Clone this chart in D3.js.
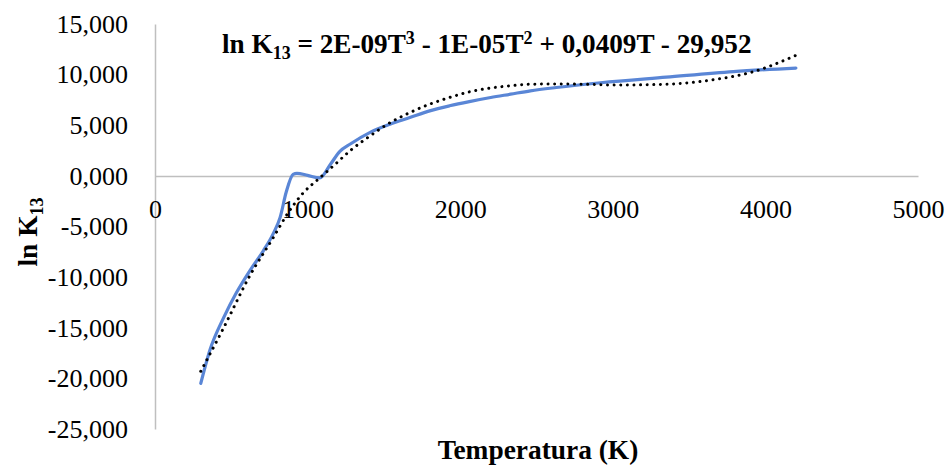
<!DOCTYPE html>
<html><head><meta charset="utf-8"><script src="https://cdn.jsdelivr.net/npm/d3@7"></script></head>
<body style="margin:0">
<svg id="s" width="952" height="468"></svg>
<script>
// ---- data ----
const temperature = [300, 360, 450, 535, 620, 710, 775, 820, 860, 905, 930, 1000, 1080, 1150, 1210, 1280, 1410, 1540, 1670, 1800, 1930, 2060, 2200, 2330, 2460, 2630, 2920, 3350, 3790, 4200];
const lnK13 = [-20.5, -17.2, -14.0, -11.5, -9.4, -7.4, -5.7, -4.1, -1.6, 0.15, 0.25, 0.05, -0.2, 1.15, 2.4, 3.15, 4.3, 5.1, 5.76, 6.42, 6.92, 7.34, 7.74, 8.07, 8.4, 8.73, 9.2, 9.75, 10.3, 10.65];
// polynomial trend line (dotted)
const trendT = [300, 450, 620, 775, 870, 970, 1080, 1170, 1280, 1410, 1540, 1670, 1800, 1930, 2060, 2200, 2330, 2460, 2630, 2800, 3020, 3350, 3680, 3900, 4200];
const trendV = [-19.3, -15.0, -9.9, -6.1, -3.7, -1.7, -0.2, 1.0, 2.5, 3.95, 5.25, 6.25, 7.08, 7.74, 8.3, 8.68, 8.9, 9.05, 9.08, 9.05, 8.97, 9.05, 9.55, 10.2, 11.9];
const xTicks = [0, 1000, 2000, 3000, 4000, 5000];
const yTicks = [-25, -20, -15, -10, -5, 0, 5, 10, 15];
const xTitle = "Temperatura (K)";

const svg = d3.select("#s");
const x = d3.scaleLinear().domain([0, 5000]).range([155, 918]);
const y = d3.scaleLinear().domain([-25, 15]).range([429, 24]);
const F = "Liberation Serif";

const ptLocale = d3.formatLocale({decimal: ",", thousands: ".", grouping: [3], currency: ["", ""], minus: "-"});
const yFmt = ptLocale.format(".3f");

// y axis (no tick marks)
const yAxis = svg.append("g").attr("transform", `translate(${x(0)},0)`)
  .call(d3.axisLeft(y).tickValues(yTicks).tickFormat(yFmt).tickSize(0).tickPadding(27));
yAxis.attr("font-family", F).attr("font-size", 26);
yAxis.select(".domain").attr("stroke", "#bfbfbf").attr("stroke-width", 1.5);
yAxis.selectAll("text").attr("fill", "#000");

// x axis at y = 0 (no tick marks)
const xAxis = svg.append("g").attr("transform", `translate(0,${y(0)})`)
  .call(d3.axisBottom(x).tickValues(xTicks).tickFormat(d3.format("d")).tickSize(0).tickPadding(24));
xAxis.attr("font-family", F).attr("font-size", 26);
xAxis.select(".domain").attr("stroke", "#bfbfbf").attr("stroke-width", 1.5);
xAxis.selectAll("text").attr("fill", "#000");

// data line
const line = d3.line().x(d => x(d[0])).y(d => y(d[1])).curve(d3.curveMonotoneX);
svg.append("path")
  .datum(temperature.map((t, i) => [t, lnK13[i]]))
  .attr("d", line)
  .attr("fill", "none").attr("stroke", "#5a86d6").attr("stroke-width", 3.2)
  .attr("stroke-linejoin", "round").attr("stroke-linecap", "round");

// trend line (dotted)
svg.append("path")
  .datum(trendT.map((t, i) => [t, trendV[i]]))
  .attr("d", line)
  .attr("fill", "none").attr("stroke", "#000").attr("stroke-width", 3)
  .attr("stroke-dasharray", "0.01 6.6").attr("stroke-linecap", "round");

// equation label
const eq = svg.append("text").attr("x", 222).attr("y", 53)
  .attr("font-family", F).attr("font-size", 27.2).attr("font-weight", "bold");
eq.append("tspan").text("ln K");
eq.append("tspan").text("13").attr("dy", 6).attr("font-size", 18);
eq.append("tspan").text(" = 2E-09T").attr("dy", -6);
eq.append("tspan").text("3").attr("dy", -9).attr("font-size", 18);
eq.append("tspan").text(" - 1E-05T").attr("dy", 9);
eq.append("tspan").text("2").attr("dy", -9).attr("font-size", 18);
eq.append("tspan").text(" + 0,0409T - 29,952").attr("dy", 9);

// axis titles
svg.append("text").attr("x", 538).attr("y", 459).attr("text-anchor", "middle")
  .attr("font-family", F).attr("font-size", 27.4).attr("font-weight", "bold").text(xTitle);
const yt = svg.append("text").attr("transform", "translate(37,232) rotate(-90)")
  .attr("text-anchor", "middle").attr("font-family", F).attr("font-size", 27.4).attr("font-weight", "bold");
yt.append("tspan").text("ln K");
yt.append("tspan").text("13").attr("dy", 6).attr("font-size", 18);
</script></body></html>
